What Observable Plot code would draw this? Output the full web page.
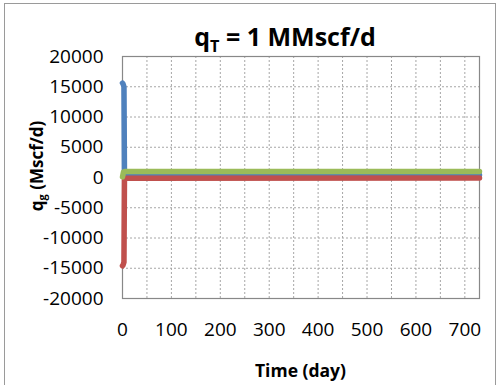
<!DOCTYPE html>
<html>
<head>
<meta charset="utf-8">
<script src="https://cdn.jsdelivr.net/npm/d3@7"></script>
<script src="https://cdn.jsdelivr.net/npm/@observablehq/plot@0.6"></script>
<style>
  html, body { margin: 0; padding: 0; background: #fff; }
  #wrap { position: relative; width: 500px; height: 385px; overflow: hidden; font-family: "Open Sans", sans-serif; }
  #border { position: absolute; left: 4px; top: 3px; width: 492px; height: 400px; border: 1px solid #9a9a9a; box-sizing: border-box; }
  .lbl { position: absolute; font-weight: bold; color: #000; white-space: nowrap; }
  #title { font-size: 25px; top: 19px; left: 0; width: 570px; text-align: center; }
  #xlab { font-size: 17.5px; top: 358px; left: 122px; width: 357px; text-align: center; }
  #ylab { font-size: 17px; left: 36px; top: 166px; transform: translate(-50%, -50%) rotate(-90deg); }
  sub { font-size: 0.65em; vertical-align: -0.35em; line-height: 0; }
  #chart { position: absolute; left: 0; top: 0; }
</style>
</head>
<body>
<div id="wrap">
  <div id="border"></div>
  <div id="chart"></div>
  <div class="lbl" id="title">q<sub>T</sub> = 1 MMscf/d</div>
  <div class="lbl" id="ylab">q<sub>g</sub> (Mscf/d)</div>
  <div class="lbl" id="xlab">Time (day)</div>
</div>
<script>
const seriesNames = ["Well 1", "Well 2", "Total"];
const seriesColors = ["#4F81BD", "#C0504D", "#9BBB59"];
const timeBlue = [0, 1, 3, 4, 8, 730];
const qBlue = [15600, 15500, 15000, 600, 420, 400];
const timeRed = [0, 1, 3, 4, 8, 730];
const qRed = [-14600, -14500, -14000, -400, -120, -100];
const timeGreen = [0, 2, 5, 730];
const qGreen = [100, 900, 1000, 1000];
const xTicks = [0, 100, 200, 300, 400, 500, 600, 700];
const xGrid = [50, 100, 150, 200, 250, 300, 350, 400, 450, 500, 550, 600, 650, 700];
const yTicks = [-20000, -15000, -10000, -5000, 0, 5000, 10000, 15000, 20000];

const mk = (ts, qs, s) => ts.map((t, i) => ({t, q: qs[i], s}));
const dBlue = mk(timeBlue, qBlue, seriesNames[0]);
const dRed = mk(timeRed, qRed, seriesNames[1]);
const dGreen = mk(timeGreen, qGreen, seriesNames[2]);

const plot = Plot.plot({
  width: 500, height: 385,
  marginLeft: 122, marginRight: 21, marginTop: 56, marginBottom: 87,
  style: { fontFamily: "Open Sans, sans-serif", fontSize: "19px", color: "#000", background: "transparent" },
  x: { domain: [0, 730], ticks: xTicks, tickSize: 0, tickPadding: 24, label: null, tickFormat: d => String(d) },
  y: { domain: [-20000, 20000], ticks: yTicks, tickSize: 0, tickPadding: 19, label: null, tickFormat: d => String(d) },
  marks: [
    Plot.ruleX(xGrid, { stroke: "#a6a6a6", strokeDasharray: "2,2", strokeWidth: 1 }),
    Plot.ruleY(yTicks.slice(1, -1), { stroke: "#a6a6a6", strokeDasharray: "2,2", strokeWidth: 1 }),
    Plot.frame({ stroke: "#888", strokeWidth: 1.2 }),
    Plot.line(dBlue, { x: "t", y: "q", stroke: seriesColors[0], strokeWidth: 5.5, strokeLinejoin: "round" }),
    Plot.line(dRed, { x: "t", y: "q", stroke: seriesColors[1], strokeWidth: 5.5, strokeLinejoin: "round" }),
    Plot.line(dGreen, { x: "t", y: "q", stroke: seriesColors[2], strokeWidth: 5.5, strokeLinejoin: "round" })
  ]
});
document.getElementById("chart").appendChild(plot);
</script>
</body>
</html>
